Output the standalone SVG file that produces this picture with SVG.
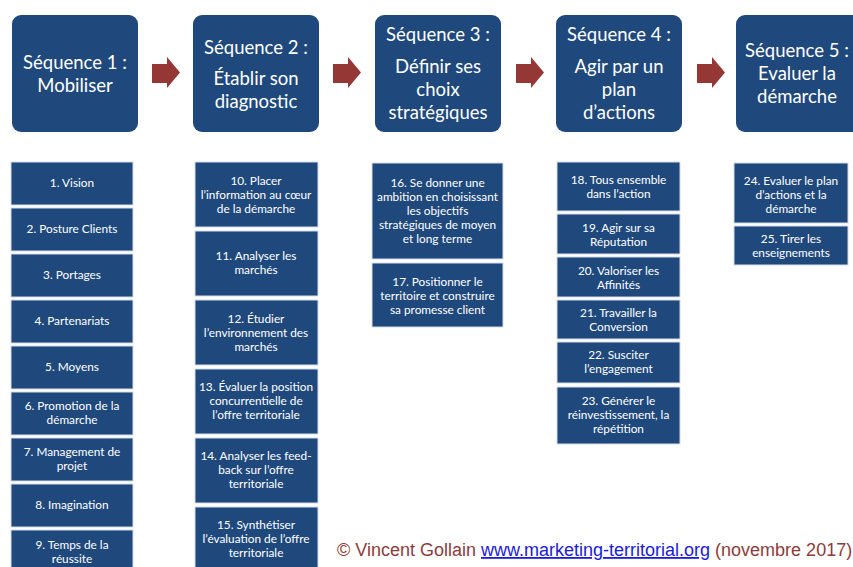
<svg xmlns="http://www.w3.org/2000/svg" xmlns:xlink="http://www.w3.org/1999/xlink" width="853" height="567" viewBox="0 0 853 567">
<defs>
<style>
.hd{fill:#1F497D;}
.bx{fill:#1F497D;stroke:#D6DCE5;stroke-width:1;}
.ht{fill:#fff;font-family:Lato,"Open Sans",sans-serif;font-size:18.5px;text-anchor:middle;}
.bt{fill:#fff;font-family:Lato,"Open Sans",sans-serif;font-size:11.8px;text-anchor:middle;}
.ar{fill:#953735;}
.ft{font-family:"Liberation Sans",Arial,sans-serif;font-size:18px;fill:#8E3B3B;}
.lk{fill:#1A1AE0;text-decoration:underline;}
</style>
<polygon id="arrow" points="0,7 15,7 15,0 28,15.5 15,31 15,26 0,26"/>
</defs>
<rect width="853" height="567" fill="#fff"/>

<g id="connectors">
<use xlink:href="#arrow" href="#arrow" class="ar" x="152" y="57"/>
<use xlink:href="#arrow" href="#arrow" class="ar" x="333" y="57"/>
<use xlink:href="#arrow" href="#arrow" class="ar" x="516" y="57"/>
<use xlink:href="#arrow" href="#arrow" class="ar" x="697" y="57"/>
</g>

<g id="seq1">
<rect class="hd" x="12" y="15" width="126" height="117" rx="9"/>
<text class="ht" x="75" y="69">Séquence 1 :</text>
<text class="ht" x="75" y="92">Mobiliser</text>
</g>
<g id="seq2">
<rect class="hd" x="193" y="15" width="126" height="117" rx="9"/>
<text class="ht" x="256" y="54">Séquence 2 :</text>
<text class="ht" x="256" y="85">Établir son</text>
<text class="ht" x="256" y="108">diagnostic</text>
</g>
<g id="seq3">
<rect class="hd" x="375" y="15" width="126" height="117" rx="9"/>
<text class="ht" x="438" y="41">Séquence 3 :</text>
<text class="ht" x="438" y="73">Définir ses</text>
<text class="ht" x="438" y="96">choix</text>
<text class="ht" x="438" y="119">stratégiques</text>
</g>
<g id="seq4">
<rect class="hd" x="556" y="15" width="126" height="117" rx="9"/>
<text class="ht" x="619" y="41">Séquence 4 :</text>
<text class="ht" x="619" y="73">Agir par un</text>
<text class="ht" x="619" y="96">plan</text>
<text class="ht" x="619" y="119">d’actions</text>
</g>
<g id="seq5">
<rect class="hd" x="736" y="15" width="140" height="117" rx="9"/>
<text class="ht" x="797" y="57">Séquence 5 :</text>
<text class="ht" x="797" y="80">Evaluer la</text>
<text class="ht" x="797" y="103">démarche</text>
</g>

<g id="s1">
<rect class="bx" x="11" y="162" width="122" height="43"/><text class="bt" x="72" y="187">1. Vision</text>
</g>
<g id="s2">
<rect class="bx" x="11" y="208" width="122" height="43"/><text class="bt" x="72" y="233">2. Posture Clients</text>
</g>
<g id="s3">
<rect class="bx" x="11" y="254" width="122" height="43"/><text class="bt" x="72" y="279">3. Portages</text>
</g>
<g id="s4">
<rect class="bx" x="11" y="300" width="122" height="43"/><text class="bt" x="72" y="325">4. Partenariats</text>
</g>
<g id="s5">
<rect class="bx" x="11" y="346" width="122" height="43"/><text class="bt" x="72" y="371">5. Moyens</text>
</g>
<g id="s6">
<rect class="bx" x="11" y="392" width="122" height="43"/><text class="bt" x="72" y="410">6. Promotion de la</text><text class="bt" x="72" y="424">démarche</text>
</g>
<g id="s7">
<rect class="bx" x="11" y="438" width="122" height="43"/><text class="bt" x="72" y="456">7. Management de</text><text class="bt" x="72" y="470">projet</text>
</g>
<g id="s8">
<rect class="bx" x="11" y="484" width="122" height="43"/><text class="bt" x="72" y="509">8. Imagination</text>
</g>
<g id="s9">
<rect class="bx" x="11" y="530" width="122" height="43"/><text class="bt" x="72" y="549">9. Temps de la</text><text class="bt" x="72" y="563">réussite</text>
</g>

<g id="s10">
<rect class="bx" x="195" y="162" width="123" height="65"/><text class="bt" x="256" y="185">10. Placer</text><text class="bt" x="256" y="199">l’information au cœur</text><text class="bt" x="256" y="213">de la démarche</text>
</g>
<g id="s11">
<rect class="bx" x="195" y="231" width="123" height="65"/><text class="bt" x="256" y="260">11. Analyser les</text><text class="bt" x="256" y="274">marchés</text>
</g>
<g id="s12">
<rect class="bx" x="195" y="300" width="123" height="65"/><text class="bt" x="256" y="323">12. Étudier</text><text class="bt" x="256" y="337">l’environnement des</text><text class="bt" x="256" y="351">marchés</text>
</g>
<g id="s13">
<rect class="bx" x="195" y="369" width="123" height="65"/><text class="bt" x="256" y="391">13. Évaluer la position</text><text class="bt" x="256" y="405">concurrentielle de</text><text class="bt" x="256" y="419">l’offre territoriale</text>
</g>
<g id="s14">
<rect class="bx" x="195" y="438" width="123" height="65"/><text class="bt" x="256" y="460">14. Analyser les feed-</text><text class="bt" x="256" y="474">back sur l’offre</text><text class="bt" x="256" y="488">territoriale</text>
</g>
<g id="s15">
<rect class="bx" x="195" y="507" width="123" height="65"/><text class="bt" x="256" y="529">15. Synthétiser</text><text class="bt" x="256" y="543">l’évaluation de l’offre</text><text class="bt" x="256" y="557">territoriale</text>
</g>

<g id="s16">
<rect class="bx" x="372" y="163" width="131" height="96"/><text class="bt" x="437.5" y="187">16. Se donner une</text><text class="bt" x="437.5" y="201">ambition en choisissant</text><text class="bt" x="437.5" y="215">les objectifs</text><text class="bt" x="437.5" y="229">stratégiques de moyen</text><text class="bt" x="437.5" y="243">et long terme</text>
</g>
<g id="s17">
<rect class="bx" x="372" y="263" width="131" height="64"/><text class="bt" x="437.5" y="286">17. Positionner le</text><text class="bt" x="437.5" y="300">territoire et construire</text><text class="bt" x="437.5" y="314">sa promesse client</text>
</g>

<g id="s18">
<rect class="bx" x="557" y="162" width="123" height="49"/><text class="bt" x="618.5" y="184">18. Tous ensemble</text><text class="bt" x="618.5" y="198">dans l’action</text>
</g>
<g id="s19">
<rect class="bx" x="557" y="214" width="123" height="40"/><text class="bt" x="618.5" y="232">19. Agir sur sa</text><text class="bt" x="618.5" y="246">Réputation</text>
</g>
<g id="s20">
<rect class="bx" x="557" y="257" width="123" height="40"/><text class="bt" x="618.5" y="275">20. Valoriser les</text><text class="bt" x="618.5" y="289">Affinités</text>
</g>
<g id="s21">
<rect class="bx" x="557" y="300" width="123" height="39"/><text class="bt" x="618.5" y="317">21. Travailler la</text><text class="bt" x="618.5" y="331">Conversion</text>
</g>
<g id="s22">
<rect class="bx" x="557" y="342" width="123" height="41"/><text class="bt" x="618.5" y="359">22. Susciter</text><text class="bt" x="618.5" y="373">l’engagement</text>
</g>
<g id="s23">
<rect class="bx" x="557" y="387" width="123" height="57"/><text class="bt" x="618.5" y="405">23. Générer le</text><text class="bt" x="618.5" y="419">réinvestissement, la</text><text class="bt" x="618.5" y="433">répétition</text>
</g>

<g id="s24">
<rect class="bx" x="734" y="163" width="114" height="60"/><text class="bt" x="791" y="185">24. Evaluer le plan</text><text class="bt" x="791" y="199">d’actions et la</text><text class="bt" x="791" y="213">démarche</text>
</g>
<g id="s25">
<rect class="bx" x="734" y="226" width="114" height="39"/><text class="bt" x="791" y="243">25. Tirer les</text><text class="bt" x="791" y="257">enseignements</text>
</g>

<g id="footer">
<text class="ft" x="337" y="556">© Vincent Gollain <tspan class="lk">www.marketing-territorial.org</tspan> (novembre 2017)</text>
</g>
</svg>
